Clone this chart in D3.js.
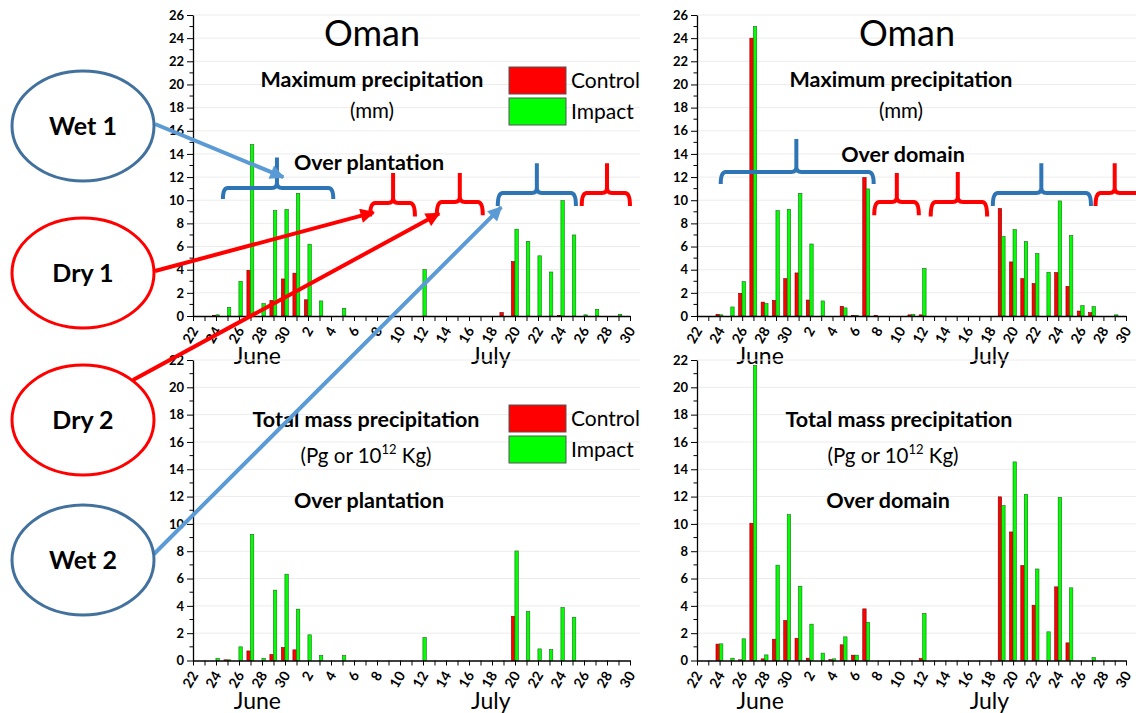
<!DOCTYPE html>
<html lang="en">
<head>
<meta charset="UTF-8">
<title>Oman precipitation</title>
<style>
  body { margin: 0; background: #fff; }
  svg { display: block; font-family: Lato, "Open Sans", sans-serif; }
</style>
</head>
<body>
<svg id="chart"></svg>
<script src="https://cdnjs.cloudflare.com/ajax/libs/d3/7.8.5/d3.min.js"></script>
<script>
// day of month for each bar slot, 22 June .. 30 July
const dayNumbers = [22,23,24,25,26,27,28,29,30,1,2,3,4,5,6,7,8,9,10,11,12,13,14,15,16,17,18,19,20,21,22,23,24,25,26,27,28,29,30];
const monthNames = ['June', 'July'];

// Maximum precipitation (mm), over plantation
const maxPlantControl = [0,0,0.05,0,0,3.95,0,1.35,3.2,3.7, 1.4,0,0,0,0,0,0,0,0,0, 0,0,0,0,0,0,0,0.3,4.7,0, 0,0,0.05,0,0,0,0,0,0];
const maxPlantImpact  = [0,0,0.1,0.75,3.0,14.8,1.07,9.1,9.2,10.6, 6.2,1.3,0,0.67,0,0,0,0,0,0, 4.0,0,0,0,0,0,0,0,7.5,6.45, 5.2,3.8,9.97,7.0,0.1,0.58,0,0.15,0];
// Maximum precipitation (mm), over domain
const maxDomControl = [0,0,0.15,0,1.96,24.0,1.2,1.35,3.23,3.72, 1.38,0,0,0.84,0.05,11.96,0.03,0,0,0.1, 0.1,0,0,0,0,0,0,9.28,4.67,3.23, 2.8,0,3.75,2.56,0.43,0.29,0,0,0];
const maxDomImpact  = [0,0,0.1,0.78,2.97,25.0,1.07,9.1,9.22,10.6, 6.22,1.3,0,0.7,0.05,10.98,0,0,0,0.15, 4.1,0,0,0,0,0,0,6.86,7.46,6.43, 5.39,3.78,9.94,6.95,0.89,0.81,0,0.1,0];
// Total mass precipitation (Pg), over plantation
const totPlantControl = [0,0,0,0.05,0,0.7,0,0.44,0.95,0.78, 0,0,0,0,0,0,0,0,0,0, 0,0,0,0,0,0,0,0,3.24,0, 0,0,0,0,0,0,0,0,0];
const totPlantImpact  = [0,0,0.15,0.05,1.0,9.24,0.15,5.15,6.32,3.76, 1.88,0.37,0,0.37,0,0,0,0,0,0, 1.68,0,0,0,0,0,0,0,8.02,3.59, 0.85,0.8,3.88,3.17,0,0,0,0,0];
// Total mass precipitation (Pg), over domain
const totDomControl = [0,0,1.2,0,0.05,10.05,0.12,1.56,2.93,1.63, 0.17,0,0.07,1.15,0.39,3.78,0,0,0,0, 0.15,0,0,0,0,0,0,11.98,9.41,6.95, 4.05,0,5.39,1.29,0,0,0,0,0];
const totDomImpact  = [0,0,1.22,0.17,1.59,21.6,0.41,6.98,10.68,5.44, 2.66,0.54,0.12,1.73,0.39,2.8,0,0,0,0, 3.44,0,0,0,0,0,0,11.34,14.54,12.17, 6.7,2.1,11.95,5.32,0,0.22,0,0,0];

const svgWidth = 1136, svgHeight = 713;
const svg = d3.select('#chart').attr('width', svgWidth).attr('height', svgHeight);
svg.append('rect').attr('width', svgWidth).attr('height', svgHeight).attr('fill', '#fff');

const RED = '#ff0000', GREEN = '#00ff00';

const panels = [
  {left: 193, right: 630, bottom: 316, top: 15, yMax: 26, gridRight: 640, control: maxPlantControl, impact: maxPlantImpact,
   title: 'Oman', titleX: 372, lines: [['Maximum precipitation', 372, 87, true], ['(mm)', 372, 118, false], ['Over plantation', 369, 170, true]],
   legend: [509, 67]},
  {left: 697, right: 1126, bottom: 316, top: 15, yMax: 26, gridRight: 1136, control: maxDomControl, impact: maxDomImpact,
   title: 'Oman', titleX: 907, lines: [['Maximum precipitation', 901, 87, true], ['(mm)', 901, 118, false], ['Over domain', 903, 162, true]]},
  {left: 193, right: 630, bottom: 660.5, top: 360, yMax: 22, gridRight: 640, control: totPlantControl, impact: totPlantImpact,
   lines: [['Total mass precipitation', 366, 427, true], ['sup', 366, 463, false], ['Over plantation', 369, 508, true]],
   legend: [509, 405]},
  {left: 697, right: 1126, bottom: 660.5, top: 360, yMax: 22, gridRight: 1136, control: totDomControl, impact: totDomImpact,
   lines: [['Total mass precipitation', 899, 427, true], ['sup', 893, 463, false], ['Over domain', 888, 508, true]]}
];

panels.forEach(p => {
  const x = d3.scaleLinear().domain([0, dayNumbers.length - 1]).range([p.left, p.right]);
  const y = d3.scaleLinear().domain([0, p.yMax]).range([p.bottom, p.top]);
  p.x = x; p.y = y;
  const g = svg.append('g');

  // faint gridlines
  g.append('g').selectAll('line').data(d3.range(2, p.yMax + 1, 2)).enter().append('line')
    .attr('x1', p.left).attr('x2', p.gridRight)
    .attr('y1', d => y(d)).attr('y2', d => y(d))
    .attr('stroke', '#ececec').attr('stroke-width', 1);

  // bars
  const idx = d3.range(dayNumbers.length);
  g.append('g').selectAll('rect').data(idx.filter(i => p.control[i] > 0)).enter().append('rect')
    .attr('x', i => x(i) - 3.6).attr('width', 3.4)
    .attr('y', i => y(p.control[i])).attr('height', i => y(0) - y(p.control[i]))
    .attr('fill', RED).attr('stroke', '#7a0000').attr('stroke-width', 0.6);
  g.append('g').selectAll('rect').data(idx.filter(i => p.impact[i] > 0)).enter().append('rect')
    .attr('x', i => x(i) - 0.1).attr('width', 3.4)
    .attr('y', i => y(p.impact[i])).attr('height', i => y(0) - y(p.impact[i]))
    .attr('fill', GREEN).attr('stroke', '#1a6a1a').attr('stroke-width', 0.6);

  // y axis
  const ya = g.append('g').attr('transform', `translate(${p.left},0)`)
    .call(d3.axisLeft(y).tickValues(d3.range(0, p.yMax + 1, 2)).tickSize(6).tickSizeOuter(0).tickPadding(3));
  ya.append('g').selectAll('line').data(d3.range(1, p.yMax, 2)).enter().append('line')
    .attr('x1', -3.5).attr('x2', 0).attr('y1', d => y(d)).attr('y2', d => y(d)).attr('stroke', '#000');
  ya.selectAll('text').style('font-size', '13px').style('font-weight', 'bold').attr('font-family', 'Lato, sans-serif');
  ya.select('.domain').attr('stroke-width', 1.3);

  // x axis
  const xa = g.append('g').attr('transform', `translate(0,${p.bottom})`)
    .call(d3.axisBottom(x).tickValues(idx).tickSize(5).tickSizeOuter(0)
      .tickFormat(i => dayNumbers[i] % 2 === 0 ? dayNumbers[i] : ''));
  xa.select('.domain').attr('stroke-width', 1.3);
  xa.selectAll('text')
    .attr('y', 0).attr('x', 0).attr('dy', '0.35em')
    .attr('text-anchor', 'end')
    .attr('transform', 'translate(1,12) rotate(-60)')
    .style('font-size', '14px').style('font-weight', 'bold').attr('font-family', 'Lato, sans-serif');

  // month names
  g.selectAll('.month').data(monthNames).enter().append('text')
    .attr('x', (d, k) => x(k === 0 ? 5.6 : 25.9))
    .attr('y', p.bottom + 48)
    .attr('text-anchor', 'middle').style('font-size', '23px').text(d => d);

  // titles
  if (p.title) {
    g.append('text').attr('x', p.titleX).attr('y', 46).attr('text-anchor', 'middle')
      .style('font-size', '36px').text(p.title);
  }
  p.lines.forEach(([t, tx, ty, bold]) => {
    const txt = g.append('text').attr('x', tx).attr('y', ty).attr('text-anchor', 'middle')
      .style('font-size', bold ? '21.5px' : '20.5px').style('font-weight', bold ? 'bold' : 'normal');
    if (t === 'sup') {
      txt.append('tspan').text('(Pg or 10');
      txt.append('tspan').attr('dy', -9).style('font-size', '13px').text('12');
      txt.append('tspan').attr('dy', 9).text(' Kg)');
    } else {
      txt.text(t);
    }
  });

  // legend
  if (p.legend) {
    const [lx, ly] = p.legend;
    [['Control', RED], ['Impact', GREEN]].forEach(([name, col], k) => {
      g.append('rect').attr('x', lx).attr('y', ly + k * 31).attr('width', 57).attr('height', 27)
        .attr('fill', col).attr('stroke', '#555').attr('stroke-width', 1);
      g.append('text').attr('x', lx + 62).attr('y', ly + 21 + k * 31)
        .style('font-size', '21px').text(name);
    });
  }
});

// Wet / Dry period brackets, in day index and value units
const BLUE_BR = '#2e75b6';
const topBrackets = [
  // [panel, startDay, endDay, centreDay, lineValue, endValue, spikeValue, colour]
  [0, 2.6, 12.2, 7.3, 11.05, 10.1, 13.7, BLUE_BR],
  [0, 15.4, 19.3, 17.4, 9.76, 8.6, 12.35, RED],
  [0, 21.2, 25.2, 23.2, 9.85, 8.7, 12.35, RED],
  [0, 26.5, 33.3, 29.9, 10.62, 9.5, 13.2, BLUE_BR],
  [0, 33.8, 38.0, 36.0, 10.62, 9.5, 13.2, RED],
  [1, 2.1, 15.65, 8.8, 12.44, 11.4, 15.29, BLUE_BR],
  [1, 15.7, 19.65, 17.7, 9.85, 8.7, 12.35, RED],
  [1, 20.7, 25.7, 23.1, 9.85, 8.6, 12.44, RED],
  [1, 26.2, 34.9, 30.5, 10.62, 9.5, 13.2, BLUE_BR],
  [1, 35.3, 40.0, 37.0, 10.62, 9.5, 13.2, RED]
];
const br = svg.append('g').attr('fill', 'none').attr('stroke-width', 4).attr('stroke-linecap', 'butt');
topBrackets.forEach(([pi, s, e, c, lv, ev, sv, col]) => {
  const p = panels[pi];
  const x1 = p.x(s), x2 = p.x(e), xc = p.x(c);
  const yl = p.y(lv), yb = p.y(ev), yt = p.y(sv);
  const r = 5;
  const path = d3.path();
  path.moveTo(x1, yb);
  path.quadraticCurveTo(x1, yl, x1 + r, yl);
  path.lineTo(xc - r, yl);
  path.quadraticCurveTo(xc, yl, xc, yl - r);
  path.lineTo(xc, yt);
  path.moveTo(xc, yl - r);
  path.quadraticCurveTo(xc, yl, xc + r, yl);
  path.lineTo(x2 - r, yl);
  path.quadraticCurveTo(x2, yl, x2, yb);
  br.append('path').attr('d', path.toString()).attr('stroke', col);
});

// ellipses with arrows pointing at the periods
const ARROW_BLUE = '#5b9bd5', ELL_BLUE = '#41719c';
const periods = [
  // [label, cx, cy, startX, startY, tipDay, tipValue, ellipse colour, arrow colour]
  ['Wet 1', 83, 126, 155, 124, 7.85, 12.0, ELL_BLUE, ARROW_BLUE],
  ['Dry 1', 83, 273, 155, 271, 15.7, 8.95, RED, RED],
  ['Dry 2', 83, 420, 133, 380, 21.4, 8.85, RED, RED],
  ['Wet 2', 83, 560, 153, 555, 26.8, 9.4, ELL_BLUE, ARROW_BLUE]
];
const defs = svg.append('defs');
[['arrowBlue', ARROW_BLUE], ['arrowRed', RED]].forEach(([id, col]) => {
  defs.append('marker').attr('id', id).attr('viewBox', '0 0 10 10')
    .attr('refX', 9).attr('refY', 5).attr('markerWidth', 4.2).attr('markerHeight', 3.6)
    .attr('orient', 'auto').attr('markerUnits', 'strokeWidth')
    .append('path').attr('d', 'M0,0 L10,5 L0,10 Z').attr('fill', col);
});
const ann = svg.append('g');
periods.forEach(([label, cx, cy, sx, sy, td, tv, ec, ac]) => {
  const p = panels[0];
  ann.append('line').attr('x1', sx).attr('y1', sy).attr('x2', p.x(td)).attr('y2', p.y(tv))
    .attr('stroke', ac).attr('stroke-width', 4)
    .attr('marker-end', ac === RED ? 'url(#arrowRed)' : 'url(#arrowBlue)');
  ann.append('ellipse').attr('cx', cx).attr('cy', cy).attr('rx', 71).attr('ry', 55)
    .attr('fill', '#fff').attr('stroke', ec).attr('stroke-width', 3);
  ann.append('text').attr('x', cx).attr('y', cy + 9).attr('text-anchor', 'middle')
    .style('font-size', '25px').style('font-weight', 'bold').text(label);
});
</script>
</body>
</html>
